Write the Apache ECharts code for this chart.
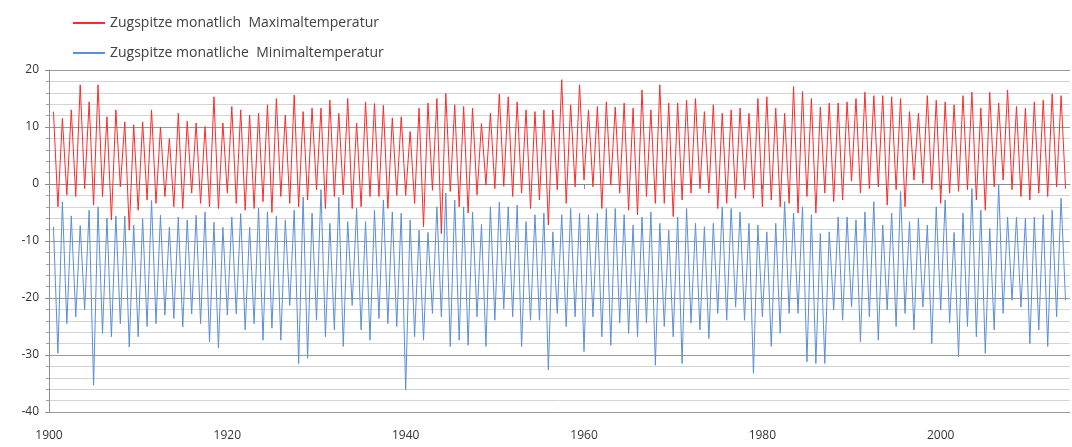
<!DOCTYPE html>
<html>
<head>
<meta charset="utf-8">
<script src="https://cdn.jsdelivr.net/npm/echarts@6/dist/echarts.min.js"></script>
<style>
html,body{margin:0;padding:0;background:#fff;}
#chart{width:1072px;height:447px;}
</style>
</head>
<body>
<div id="chart"></div>
<script>
// first year of the record; one summer peak and the following winter trough per year
const firstYear = 1900;
const seriesNames = ['Zugspitze monatlich  Maximaltemperatur', 'Zugspitze monatliche  Minimaltemperatur'];
const xTickLabels = [1900, 1920, 1940, 1960, 1980, 2000];
const yTickLabels = [20, 10, 0, -10, -20, -30, -40];

// Maximum temperature: summer peak of each year (1900..2013)
const maxSummer = [
12.7,11.5,13.0,17.4,14.4,17.4,11.8,13.0,10.9,10.4,
10.9,13.0,10.0,8.0,12.4,11.0,10.7,10.1,15.3,10.7,
13.6,13.0,12.1,12.4,13.9,15.0,12.1,15.6,12.7,13.3,
13.3,14.7,12.4,15.0,10.7,14.4,14.1,13.8,11.6,11.8,
9.2,13.3,14.2,15.0,15.9,13.9,13.6,13.3,10.6,12.4,
15.8,15.3,14.4,13.0,12.7,13.0,13.0,18.3,13.9,17.4,
13.0,13.6,14.4,13.5,14.2,13.3,16.5,13.0,17.4,14.2,
14.2,14.7,15.0,12.7,13.9,12.4,13.0,13.3,12.4,15.0,
15.3,13.3,12.4,17.1,16.2,15.0,13.5,14.2,14.2,14.4,
15.0,16.1,15.5,15.5,15.3,15.0,12.7,12.4,15.5,14.7,
14.4,13.9,15.5,16.1,13.3,16.1,14.2,16.5,13.6,13.3,
14.4,14.7,15.8,15.5
];
// Maximum temperature: winter trough following each summer
const maxWinter = [
-4.0,-1.9,-2.2,-0.8,-3.7,-2.2,-6.3,-0.5,-8.1,-4.6,
-2.8,-3.4,-2.2,-4.0,-4.3,-1.6,-3.4,-4.0,-4.3,-1.6,
-3.4,-4.6,-4.3,-3.1,-5.0,-2.2,-3.4,-4.0,-2.8,-1.0,
-4.3,-2.2,-1.9,-4.3,-4.0,-2.2,-2.2,-4.3,-2.0,-2.0,
-3.4,-7.5,-1.1,-8.7,-1.3,-4.0,-5.1,-1.9,-0.2,-0.8,
-0.4,-2.2,-1.6,-4.3,-2.8,-7.2,-1.0,-3.4,-0.5,0.7,
-0.5,-4.3,-0.2,-1.6,-4.6,-5.4,-2.2,-3.4,-3.4,-5.7,
-2.8,-1.6,-0.8,-1.6,-4.3,-3.4,-2.5,-1.0,-2.5,-4.0,
-2.8,-4.0,-3.4,-5.1,-2.2,-5.1,-1.6,-3.1,-2.8,0.5,
-1.6,-0.8,-0.5,-3.7,-1.0,-4.0,0.7,0.1,-1.0,-3.4,
-1.6,-1.3,-1.0,-2.8,-4.6,-0.5,0.7,-1.0,-2.2,-2.8,
-1.6,-2.2,-0.5,-0.8
];
// Minimum temperature: summer peak of each year
const minSummer = [
-7.5,-3.1,-5.6,-7.3,-4.6,-4.0,-6.0,-5.6,-5.6,-7.2,
-6.1,-2.9,-5.5,-7.6,-5.8,-6.3,-5.5,-4.9,-6.7,-7.6,
-5.8,-5.2,-7.6,-4.2,-4.9,-5.6,-6.3,-4.6,-2.3,-5.1,
-1.0,-6.9,-2.3,-6.6,-4.3,-6.6,-4.6,-2.8,-4.9,-5.1,
-6.3,-8.1,-8.5,-4.0,-1.6,-2.8,-4.0,-4.9,-7.1,-4.0,
-3.2,-4.0,-3.7,-6.6,-5.4,-5.1,-8.4,-5.4,-4.3,-5.1,
-5.4,-5.1,-4.3,-4.3,-5.4,-7.2,-5.8,-4.9,-6.9,-8.1,
-5.8,-4.3,-6.9,-7.5,-6.9,-4.0,-4.3,-4.9,-6.9,-7.2,
-8.4,-6.9,-3.1,-5.1,-4.0,-5.4,-8.7,-8.4,-5.8,-5.8,
-6.3,-4.9,-3.1,-7.2,-5.1,-1.3,-6.6,-6.0,-7.2,-4.0,
-2.8,-8.5,-5.1,-0.8,-4.6,-7.8,0.0,-5.8,-5.8,-6.0,
-5.8,-5.4,-4.6,-2.5
];
// Minimum temperature: winter trough following each summer
const minWinter = [
-29.7,-24.5,-23.3,-22.1,-35.3,-26.2,-26.8,-24.5,-28.6,-26.8,
-25.0,-24.5,-23.0,-23.6,-25.1,-22.8,-24.5,-27.7,-28.8,-23.0,
-22.8,-25.6,-24.5,-27.4,-25.3,-27.4,-21.3,-31.5,-30.6,-23.9,
-26.8,-25.6,-28.5,-21.3,-25.6,-27.4,-23.6,-24.5,-25.0,-36.1,
-26.8,-27.4,-22.7,-23.3,-28.5,-27.4,-28.3,-23.3,-28.5,-23.9,
-21.9,-23.3,-28.5,-23.9,-23.9,-32.6,-22.7,-25.0,-23.3,-29.4,
-23.3,-26.8,-28.3,-24.4,-26.2,-26.8,-24.4,-31.8,-25.0,-26.8,
-31.5,-24.4,-25.6,-27.1,-22.7,-23.9,-21.6,-23.9,-33.2,-23.3,
-28.5,-26.2,-22.7,-22.7,-31.2,-31.5,-31.5,-22.1,-23.9,-21.6,
-27.7,-23.3,-27.4,-22.1,-25.0,-22.7,-25.6,-21.6,-28.0,-22.1,
-24.4,-30.3,-25.0,-26.8,-29.7,-25.6,-22.7,-20.4,-21.6,-28.0,
-25.6,-28.5,-23.3,-20.4
];

function buildSeries(summer, winter) {
  const out = [];
  for (let i = 0; i < summer.length; i++) {
    const y = firstYear + i;
    out.push([y + 0.5, summer[i]]);   // July
    out.push([y + 1.0, winter[i]]);   // following January
  }
  return out;
}

const chart = echarts.init(document.getElementById('chart'), null, {renderer: 'canvas'});
const fontFamily = "'Open Sans', 'Liberation Sans', sans-serif";
chart.setOption({
  animation: false,
  backgroundColor: '#ffffff',
  legend: {
    orient: 'vertical',
    left: 68,
    top: 10,
    itemWidth: 32,
    itemHeight: 2,
    itemGap: 14,
    icon: 'rect',
    textStyle: {fontFamily: fontFamily, fontSize: 14, color: '#404040', lineHeight: 16},
    data: seriesNames
  },
  grid: {left: 49, right: 2, top: 70, bottom: 35, containLabel: false},
  xAxis: {
    type: 'value',
    min: 1900,
    max: 2014.5,
    interval: 20,
    axisLine: {show: true, lineStyle: {color: '#8c8c8c', width: 1}},
    axisTick: {show: true, length: 5, lineStyle: {color: '#8c8c8c'}},
    splitLine: {show: false},
    axisLabel: {
      showMaxLabel: false,
      margin: 18,
      fontFamily: fontFamily, fontSize: 12, color: '#333',
      formatter: function (v) { return xTickLabels.indexOf(v) >= 0 ? String(v) : ''; }
    }
  },
  yAxis: {
    type: 'value',
    min: -40,
    max: 20,
    interval: 10,
    axisLine: {show: true, lineStyle: {color: '#8c8c8c', width: 1}},
    axisTick: {show: true, length: 4, lineStyle: {color: '#8c8c8c'}},
    minorTick: {show: true, splitNumber: 5, length: 3, lineStyle: {color: '#a0a0a0'}},
    splitLine: {show: true, lineStyle: {color: '#9a9a9a', width: 1}},
    minorSplitLine: {show: true, lineStyle: {color: '#d4d4d4', width: 1}},
    axisLabel: {
      margin: 10,
      fontFamily: fontFamily, fontSize: 12, color: '#333',
      formatter: function (v) { return yTickLabels.indexOf(v) >= 0 ? String(v) : ''; }
    }
  },
  series: [
    {
      name: seriesNames[0],
      type: 'line',
      data: buildSeries(maxSummer, maxWinter),
      showSymbol: false,
      symbol: 'none',
      lineStyle: {color: '#ff2a2a', width: 1},
      itemStyle: {color: '#ff2a2a'}
    },
    {
      name: seriesNames[1],
      type: 'line',
      data: buildSeries(minSummer, minWinter),
      showSymbol: false,
      symbol: 'none',
      lineStyle: {color: '#5b8fd9', width: 1},
      itemStyle: {color: '#5b8fd9'}
    }
  ]
});
</script>
</body>
</html>
